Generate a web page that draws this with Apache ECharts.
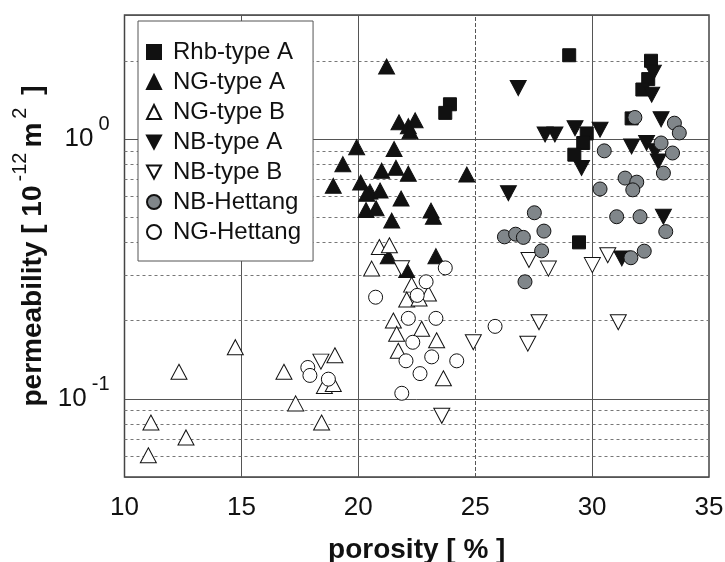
<!DOCTYPE html>
<html>
<head>
<meta charset="utf-8">
<script src="https://cdn.jsdelivr.net/npm/echarts@6/dist/echarts.min.js"></script>
<style>
html, body { margin: 0; padding: 0; background: #fff; }
#chart { width: 725px; height: 562px; }
</style>
</head>
<body>
<div id="chart"></div>
<script>
// porosity [%] vs permeability [1e-12 m2]
var rhbA = [[23.92, 1.36], [23.72, 1.26], [29.02, 2.1], [29.77, 1.05], [29.62, 0.965], [29.24, 0.87],
  [29.44, 0.40], [32.52, 2.0], [32.40, 1.70], [32.15, 1.55], [31.69, 1.2]];
var ngA = [[21.21, 1.9], [21.74, 1.16], [22.14, 1.12], [22.43, 1.18], [22.21, 1.07], [19.93, 0.93],
  [21.53, 0.915], [19.34, 0.80], [21.0, 0.755], [21.61, 0.775], [22.14, 0.735], [24.64, 0.73],
  [18.93, 0.66], [20.10, 0.68], [20.50, 0.627], [20.93, 0.633], [20.36, 0.615], [21.83, 0.59],
  [20.33, 0.533], [20.76, 0.541], [23.11, 0.53], [23.21, 0.502], [21.43, 0.485], [23.32, 0.354],
  [21.28, 0.354], [22.07, 0.313]];
var ngB = [[11.13, 0.081], [11.02, 0.0606], [12.63, 0.071], [12.33, 0.127], [14.74, 0.158], [16.82, 0.127],
  [17.32, 0.096], [18.43, 0.081], [19.0, 0.147], [18.55, 0.112], [18.93, 0.114], [20.90, 0.384],
  [21.33, 0.39], [20.57, 0.317], [22.28, 0.275], [22.07, 0.241], [23.0, 0.254], [22.6, 0.243],
  [21.50, 0.2], [22.71, 0.186], [21.64, 0.178], [23.35, 0.168], [21.71, 0.153], [23.64, 0.12]];
var nbA = [[26.84, 1.57], [27.99, 1.04], [28.41, 1.04], [29.27, 1.10], [29.55, 0.773], [30.34, 1.085],
  [26.42, 0.618], [32.62, 1.80], [32.55, 1.48], [32.95, 1.19], [31.69, 0.936], [32.33, 0.965],
  [32.69, 0.896], [32.83, 0.819], [33.05, 0.502], [31.27, 0.347]];
var nbB = [[18.40, 0.139], [21.85, 0.318], [23.57, 0.086], [24.92, 0.165], [27.30, 0.342], [28.13, 0.317],
  [30.01, 0.327], [30.67, 0.357], [27.73, 0.197], [27.25, 0.163], [31.12, 0.197]];
var nbHet = [[27.53, 0.52], [26.25, 0.42], [26.73, 0.43], [27.06, 0.418], [27.94, 0.442], [27.84, 0.371],
  [27.13, 0.282], [31.83, 1.21], [33.52, 1.15], [33.73, 1.055], [32.95, 0.965], [33.44, 0.883],
  [30.52, 0.90], [33.05, 0.739], [31.41, 0.707], [31.91, 0.682], [31.74, 0.637], [30.34, 0.642],
  [31.05, 0.502], [32.05, 0.502], [33.15, 0.44], [31.66, 0.349], [32.23, 0.37]];
var ngHet = [[17.84, 0.132], [17.93, 0.123], [18.72, 0.119], [22.90, 0.282], [22.52, 0.25], [20.74, 0.246],
  [23.72, 0.319], [22.14, 0.204], [23.32, 0.204], [22.33, 0.165], [22.04, 0.14], [23.14, 0.145],
  [24.21, 0.14], [22.64, 0.125], [21.86, 0.105], [25.85, 0.19]];

var names = ["Rhb-type A", "NG-type A", "NG-type B", "NB-type A", "NB-type B", "NB-Hettang", "NG-Hettang"];

// grid lines
var xGridSolid = [15, 20, 30];
var xGridDashed = [25];
var yGridMinor = [0.06, 0.07, 0.08, 0.09, 0.2, 0.3, 0.4, 0.5, 0.6, 0.7, 0.8, 0.9, 2];

var font = "Liberation Sans";
var ink = "#111";
var downTri = "path://M0,0L16,0L8,15Z";

var gridLines = [];
xGridSolid.forEach(function (v) {
  gridLines.push({ xAxis: v, lineStyle: { type: "solid", color: "#555", width: 1 } });
});
xGridDashed.forEach(function (v) {
  gridLines.push({ xAxis: v, lineStyle: { type: [4, 2], color: "#555", width: 1 } });
});
yGridMinor.forEach(function (v) {
  gridLines.push({ yAxis: v, lineStyle: { type: [3, 3], color: "#777", width: 1 } });
});

function mk(name, data, symbol, size, fill, rotate) {
  return {
    name: name,
    type: "scatter",
    data: data,
    symbol: symbol,
    symbolSize: size,
    symbolRotate: rotate || 0,
    itemStyle: { color: fill, borderColor: "#111", borderWidth: 1, opacity: 1 },
    emphasis: { disabled: true }
  };
}

var series = [
  mk(names[0], rhbA, "rect", 13, "#111"),
  mk(names[1], ngA, "triangle", [16, 15], "#111"),
  mk(names[2], ngB, "triangle", [16, 15], "#fff"),
  mk(names[3], nbA, "triangle", [16, 15], "#111", 180),
  mk(names[4], nbB, "triangle", [16, 15], "#fff", 180),
  mk(names[5], nbHet, "circle", 14, "#80868a"),
  mk(names[6], ngHet, "circle", 14, "#fff")
];
series[0].markLine = {
  silent: true,
  symbol: "none",
  z: 1,
  label: { show: false },
  data: gridLines
};

var legendIcons = ["rect", "triangle", "triangle", downTri, downTri, "circle", "circle"];

var chart = echarts.init(document.getElementById("chart"));
chart.setOption({
  animation: false,
  backgroundColor: "#fff",
  grid: {
    left: 124.5,
    right: 16,
    top: 15,
    bottom: 85,
    containLabel: false,
    outerBoundsMode: "none",
    show: true,
    borderColor: "#444",
    borderWidth: 1.5
  },
  legend: {
    data: names.map(function (n, i) { return { name: n, icon: legendIcons[i] }; }),
    orient: "vertical",
    left: 138,
    top: 21,
    itemWidth: 14,
    itemHeight: 14,
    itemGap: 6,
    padding: [19, 12, 17, 8],
    backgroundColor: "#fff",
    borderColor: "#555",
    borderWidth: 1,
    selectedMode: false,
    textStyle: { fontFamily: font, fontSize: 24, color: ink, padding: [0, 0, 0, 7] }
  },
  xAxis: {
    type: "value",
    min: 10,
    max: 35,
    interval: 5,
    axisLine: { show: false },
    axisTick: { show: false },
    splitLine: { show: false },
    axisLabel: { fontFamily: font, fontSize: 26, color: ink, margin: 18 },
    name: "porosity [ % ]",
    nameLocation: "middle",
    nameGap: 59,
    nameTextStyle: { fontFamily: font, fontSize: 28, fontWeight: "bold", color: ink }
  },
  yAxis: {
    type: "log",
    logBase: 10,
    min: 0.05,
    max: 3,
    axisLine: { show: false },
    axisTick: { show: false },
    splitLine: { show: true, lineStyle: { color: "#555", width: 1 } },
    axisLabel: {
      margin: 15,
      showMinLabel: false,
      showMaxLabel: false,
      formatter: function (v) {
        var e = Math.round(Math.log10(v));
        if (Math.abs(v - Math.pow(10, e)) > 1e-9 * Math.pow(10, e)) return "";
        return "{b|10}{s|" + e + "}";
      },
      rich: {
        b: { fontFamily: font, fontSize: 26, color: ink, verticalAlign: "bottom", lineHeight: 26, padding: [13, 0, 0, 0] },
        s: { fontFamily: font, fontSize: 20, color: ink, verticalAlign: "bottom", lineHeight: 20, padding: [0, 0, 17, 5] }
      }
    },
    name: "{a|permeability [ 10}{s|-12}{a|m}{s|2}{a| ]}",
    nameLocation: "middle",
    nameGap: 66,
    nameTextStyle: {
      rich: {
        a: { fontFamily: font, fontSize: 28, fontWeight: "bold", color: ink, verticalAlign: "bottom", lineHeight: 30 },
        s: { fontFamily: font, fontSize: 20, color: ink, verticalAlign: "bottom", lineHeight: 20, padding: [0, 5, 16, 4] }
      }
    }
  },
  series: series
});
</script>
</body>
</html>
